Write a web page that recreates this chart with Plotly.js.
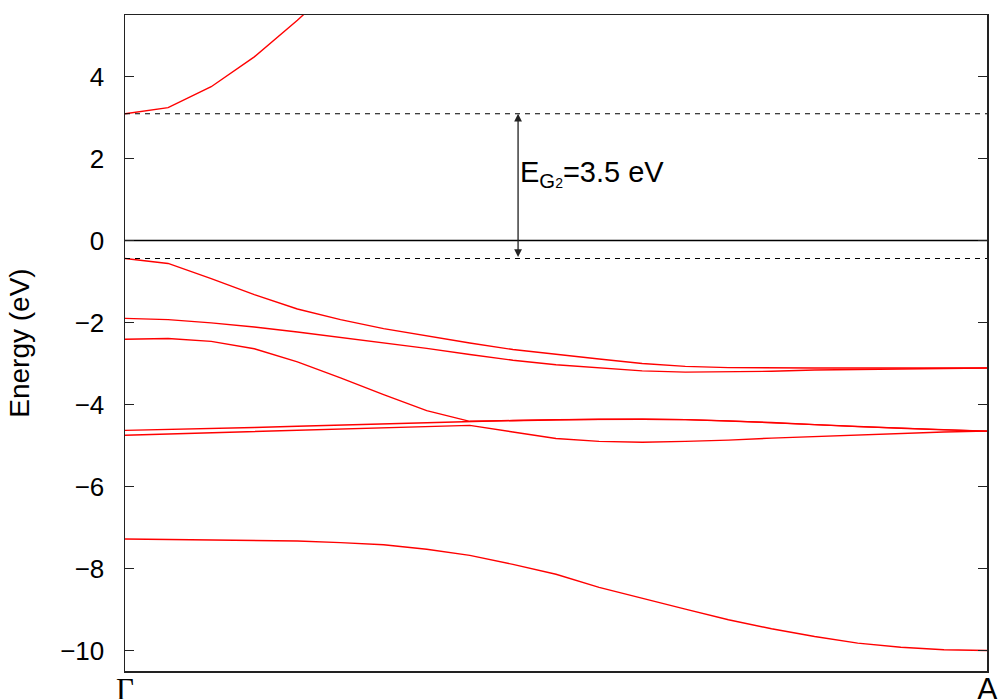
<!DOCTYPE html>
<html>
<head>
<meta charset="utf-8">
<script src="https://cdn.plot.ly/plotly-3.0.1.min.js"></script>
<style>html,body{margin:0;padding:0;background:#fff;}#chart{width:1000px;height:699px;}</style>
</head>
<body>
<div id="chart"></div>
<script>
// k-path positions from Γ (0) to A (1)
const kpath = [0, 0.05, 0.10, 0.15, 0.20, 0.25, 0.30, 0.35, 0.40, 0.45, 0.50,
               0.55, 0.60, 0.65, 0.70, 0.75, 0.80, 0.85, 0.90, 0.95, 1.00];
const kpathCB = [0, 0.05, 0.10, 0.15, 0.20, 0.25];

// Energies (eV)
const conductionBand = [3.09, 3.24, 3.75, 4.48, 5.37, 6.35];
const valence1 = [-0.44, -0.56, -0.93, -1.32, -1.67, -1.93, -2.15, -2.33, -2.50, -2.66, -2.78,
                  -2.89, -3.00, -3.07, -3.10, -3.11, -3.11, -3.11, -3.11, -3.11, -3.11];
const valence2 = [-1.90, -1.93, -2.01, -2.11, -2.23, -2.36, -2.50, -2.63, -2.78, -2.92, -3.03,
                  -3.11, -3.18, -3.21, -3.20, -3.19, -3.16, -3.15, -3.14, -3.12, -3.11];
const valence3 = [-2.41, -2.39, -2.46, -2.64, -2.96, -3.35, -3.76, -4.15, -4.41, -4.39, -4.37,
                  -4.36, -4.36, -4.37, -4.40, -4.44, -4.49, -4.54, -4.58, -4.62, -4.65];
const valence4 = [-4.63, -4.61, -4.58, -4.56, -4.53, -4.50, -4.48, -4.45, -4.42, -4.39, -4.37,
                  -4.36, -4.36, -4.37, -4.40, -4.44, -4.49, -4.54, -4.58, -4.62, -4.65];
const valence5 = [-4.75, -4.72, -4.69, -4.66, -4.63, -4.60, -4.57, -4.54, -4.51, -4.67, -4.83,
                  -4.90, -4.92, -4.90, -4.87, -4.82, -4.78, -4.74, -4.70, -4.67, -4.65];
const valence6 = [-7.28, -7.29, -7.30, -7.31, -7.33, -7.37, -7.42, -7.53, -7.68, -7.90, -8.14,
                  -8.46, -8.73, -8.99, -9.25, -9.47, -9.66, -9.82, -9.92, -9.98, -10.00];

const cbm = 3.09;      // conduction band minimum
const vbm = -0.44;     // valence band maximum
const fermi = 0;
const gapLabel = 'E<sub>G<span style="font-size:14px">2</span></sub>=3.5 eV';
const gapX = 0.456;

const yTicks = [-10, -8, -6, -4, -2, 0, 2, 4];
const kLabelPos = [0, 1];
const kLabels = ['Γ', 'A'];
const kLabelFonts = ['Liberation Serif, serif', 'Liberation Sans, Arial, sans-serif'];

const FONT = 'Liberation Sans, Arial, sans-serif';
const red = {color: '#ff0000', width: 1.4};

const bands = [
  [kpathCB, conductionBand], [kpath, valence1], [kpath, valence2], [kpath, valence3],
  [kpath, valence4], [kpath, valence5], [kpath, valence6]
];
const traces = bands.map(([x, y]) => ({x, y, type: 'scatter', mode: 'lines', line: red, hoverinfo: 'skip'}));

traces.push({x: [0, 1], y: [cbm, cbm], type: 'scatter', mode: 'lines',
             line: {color: '#000', width: 1.1, dash: '5px,5px'}, hoverinfo: 'skip'});
traces.push({x: [0, 1], y: [vbm, vbm], type: 'scatter', mode: 'lines',
             line: {color: '#000', width: 1.1, dash: '5px,5px'}, hoverinfo: 'skip'});
traces.push({x: [0, 1], y: [fermi, fermi], type: 'scatter', mode: 'lines',
             line: {color: '#000', width: 1.4}, hoverinfo: 'skip'});

const annotations = [
  {x: gapX, y: cbm, ax: gapX, ay: vbm, xref: 'x', yref: 'y', axref: 'x', ayref: 'y',
   text: '', showarrow: true, arrowside: 'end+start', arrowhead: 2, arrowsize: 1.2,
   arrowwidth: 1.3, arrowcolor: '#222', standoff: 0, startstandoff: 0},
  {x: gapX, y: 1.62, xref: 'x', yref: 'y', text: gapLabel, showarrow: false,
   xanchor: 'left', yanchor: 'middle', xshift: 0,
   font: {family: FONT, size: 29, color: '#000'}}
];
kLabelPos.forEach((p, i) => annotations.push({
  x: p, y: 0, xref: 'x', yref: 'paper', text: kLabels[i], showarrow: false,
  xanchor: 'center', yanchor: 'top', yshift: 1,
  font: {family: kLabelFonts[i], size: 31, color: '#000'}
}));

const layout = {
  width: 1000, height: 699,
  margin: {l: 125, r: 13, t: 15, b: 28},
  paper_bgcolor: '#fff', plot_bgcolor: '#fff',
  showlegend: false,
  font: {family: FONT, color: '#000', size: 26},
  xaxis: {
    range: [0, 1], showticklabels: false,
    ticks: '', showgrid: false, zeroline: false,
    showline: true, mirror: true, linecolor: '#222', linewidth: 1.5
  },
  yaxis: {
    range: [-10.5, 5.5], tickvals: yTicks,
    ticks: 'inside', ticklen: 9, tickwidth: 1.5, tickcolor: '#222',
    showgrid: false, zeroline: false,
    showline: true, mirror: 'ticks', linecolor: '#222', linewidth: 1.5,
    tickfont: {family: FONT, size: 26, color: '#000'}, ticklabelstandoff: 14,
    title: {text: 'Energy (eV)', font: {family: FONT, size: 28, color: '#000'}, standoff: 22}
  },
  annotations: annotations
};

Plotly.newPlot('chart', traces, layout, {staticPlot: true, displayModeBar: false});
</script>
</body>
</html>
